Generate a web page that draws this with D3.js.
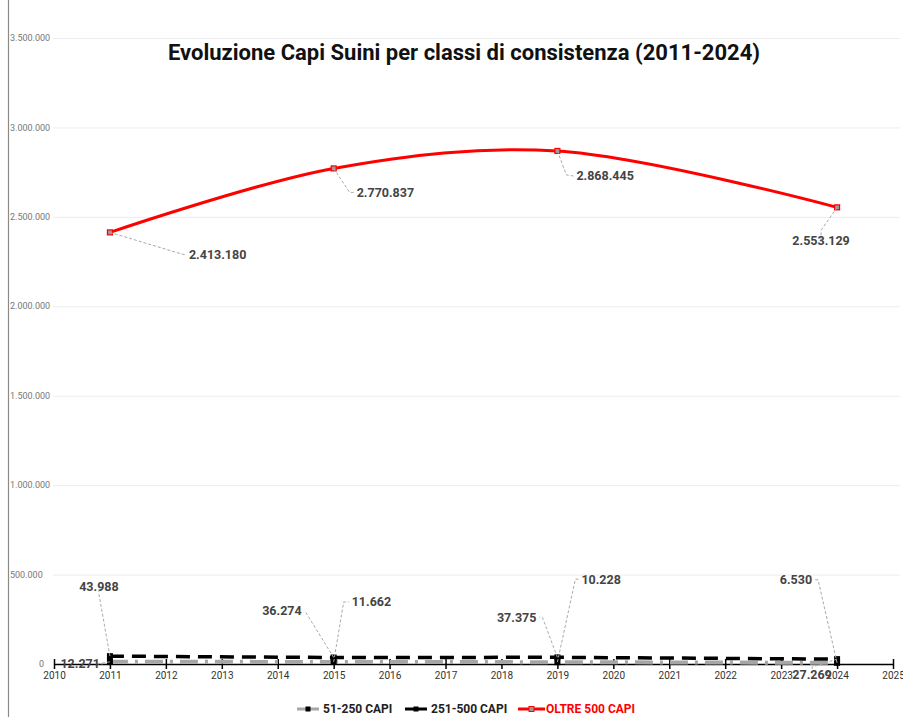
<!DOCTYPE html>
<html>
<head>
<meta charset="utf-8">
<script src="https://cdn.jsdelivr.net/npm/d3@7"></script>
<style>
  html, body { margin: 0; padding: 0; background: #fff; }
  svg { display: block; font-family: Roboto, "Noto Sans", sans-serif; }
</style>
</head>
<body>
<svg id="chart" width="903" height="717"></svg>
<script>
// Anni di rilevazione
const years = [2011, 2015, 2019, 2024];
// Capi per classe di consistenza
const capi51_250 = [12271, 11662, 10228, 6530];
const capi251_500 = [43988, 36274, 37375, 27269];
const capiOltre500 = [2413180, 2770837, 2868445, 2553129];
const seriesNames = ["51-250 CAPI", "251-500 CAPI", "OLTRE 500 CAPI"];
const yTicks = [0, 500000, 1000000, 1500000, 2000000, 2500000, 3000000, 3500000];
const xTicks = d3.range(2010, 2026);

// Posizione delle etichette rispetto al punto: [elbow dx, elbow dy, text dx, text dy, anchor]
const labelLayout = {
  oltre: [[73, 22, 79, 22, "start"], [16, 24, 23, 24, "start"], [9, 24, 19, 25, "start"], [-16, 23, -16, 33, "middle"]],
  mid:   [[-11, -62, -11, -70, "middle"], [-29, -47, -32, -47, "end"], [-15, -40, -21, -40, "end"], [-25, 8, -25, 16, "middle"]],
  low:   [[-12, 2, -10, 2, "end"], [10, -60, 18, -60, "start"], [18, -83, 24, -83, "start"], [-19, -83, -25, -83, "end"]]
};

const fmt = v => d3.format(",")(v).replace(/,/g, ".");

const svg = d3.select("#chart");
const x = d3.scaleLinear().domain([2010, 2025]).range([54, 893]);
const y = d3.scaleLinear().domain([0, 3500000]).range([664, 38]);

// bordo sinistro
svg.append("line").attr("x1", 8.5).attr("x2", 8.5).attr("y1", 0).attr("y2", 717)
  .attr("stroke", "#8a8a8a").attr("stroke-width", 1.2);

// griglia e etichette asse Y
const gy = svg.append("g");
gy.selectAll("line").data(yTicks.filter(d => d > 0)).join("line")
  .attr("x1", 53).attr("x2", 900)
  .attr("y1", d => y(d) + 0.5).attr("y2", d => y(d) + 0.5)
  .attr("stroke", "#ececec").attr("stroke-width", 1);
gy.selectAll("text").data(yTicks).join("text")
  .attr("x", d => d === 0 ? 39 : 10).attr("y", d => y(d))
  .attr("dy", "0.35em")
  .attr("font-size", 9).attr("fill", "#777")
  .text(d => fmt(d));

// titolo
svg.append("text").attr("x", 464).attr("y", 60).attr("text-anchor", "middle")
  .attr("font-size", 22).attr("font-weight", "bold").attr("fill", "#111")
  .text("Evoluzione Capi Suini per classi di consistenza (2011-2024)");

// asse X
const xAxis = d3.axisBottom(x).tickValues(xTicks).tickFormat(d3.format("d")).tickSize(0).tickPadding(8);
const gx = svg.append("g").attr("transform", `translate(0,${y(0)})`).call(xAxis);
gx.select(".domain").attr("stroke", "#000").attr("stroke-width", 1.5);
gx.selectAll(".tick text").attr("font-size", 10).attr("fill", "#333")
  .attr("font-family", "Roboto, sans-serif");
gx.selectAll(".tick").append("line").attr("y1", -5).attr("y2", 5)
  .attr("stroke", "#000").attr("stroke-width", 1.5);

// serie
const pts = vals => years.map((yr, i) => [x(yr), y(vals[i])]);

svg.append("path").attr("d", d3.line()(pts(capi51_250)))
  .attr("fill", "none").attr("stroke", "#a6a6a6").attr("stroke-width", 4)
  .attr("stroke-dasharray", "18,7,3,7");
svg.append("path").attr("d", d3.line()(pts(capi251_500)))
  .attr("fill", "none").attr("stroke", "#000").attr("stroke-width", 3.5)
  .attr("stroke-dasharray", "14,8");
svg.append("path").attr("d", d3.line().curve(d3.curveCatmullRom.alpha(0.5))(pts(capiOltre500)))
  .attr("fill", "none").attr("stroke", "#ff0000").attr("stroke-width", 3);

// marcatori
svg.append("g").selectAll("rect").data(pts(capi51_250)).join("rect")
  .attr("x", d => d[0] - 3).attr("y", d => d[1] - 3).attr("width", 6).attr("height", 6)
  .attr("fill", "#000");
svg.append("g").selectAll("rect").data(pts(capi251_500)).join("rect")
  .attr("x", d => d[0] - 3).attr("y", d => d[1] - 3).attr("width", 6).attr("height", 6)
  .attr("fill", "#000");
svg.append("g").selectAll("rect").data(pts(capiOltre500)).join("rect")
  .attr("x", d => d[0] - 2.5).attr("y", d => d[1] - 2.5).attr("width", 5).attr("height", 5)
  .attr("fill", "#999").attr("stroke", "#ff0000").attr("stroke-width", 1.2);

// etichette con linee guida
function labels(vals, layout) {
  const g = svg.append("g");
  pts(vals).forEach((p, i) => {
    const [ex, ey, tx, ty, anchor] = layout[i];
    g.append("polyline")
      .attr("points", [[p[0], p[1]], [p[0] + ex, p[1] + ey], [p[0] + tx - (anchor === "end" ? -3 : anchor === "start" ? 3 : 0), p[1] + ty]].map(q => q.join(",")).join(" "))
      .attr("fill", "none").attr("stroke", "#aaa").attr("stroke-width", 1)
      .attr("stroke-dasharray", "3,2");
    g.append("text").attr("x", p[0] + tx).attr("y", p[1] + ty).attr("dy", "0.35em")
      .attr("text-anchor", anchor).attr("font-size", 12.5).attr("font-weight", "bold")
      .attr("fill", "#444").text(fmt(vals[i]));
  });
}
labels(capiOltre500, labelLayout.oltre);
labels(capi251_500, labelLayout.mid);
labels(capi51_250, labelLayout.low);

// legenda
const legend = svg.append("g").attr("transform", "translate(0,709)");
const items = [
  { x: 297, color: "#a6a6a6", dash: null, marker: "#000", mstroke: null, text: "#222" },
  { x: 405, color: "#000", dash: "9,4", marker: "#000", mstroke: null, text: "#222" },
  { x: 518, color: "#ff0000", dash: null, marker: "#999", mstroke: "#ff0000", text: "#ff0000" }
];
items.forEach((it, i) => {
  const w = i === 2 ? 27 : 22;
  legend.append("line").attr("x1", it.x).attr("x2", it.x + w).attr("y1", 0).attr("y2", 0)
    .attr("stroke", it.color).attr("stroke-width", 3).attr("stroke-dasharray", it.dash);
  legend.append("rect").attr("x", it.x + w / 2 - 2.5).attr("y", -2.5).attr("width", 5).attr("height", 5)
    .attr("fill", it.marker).attr("stroke", it.mstroke);
  legend.append("text").attr("x", it.x + w + (i === 2 ? 1 : 4)).attr("y", 0).attr("dy", "0.35em")
    .attr("font-size", 12).attr("font-weight", "bold").attr("fill", it.text)
    .text(seriesNames[i]);
});
</script>
</body>
</html>
